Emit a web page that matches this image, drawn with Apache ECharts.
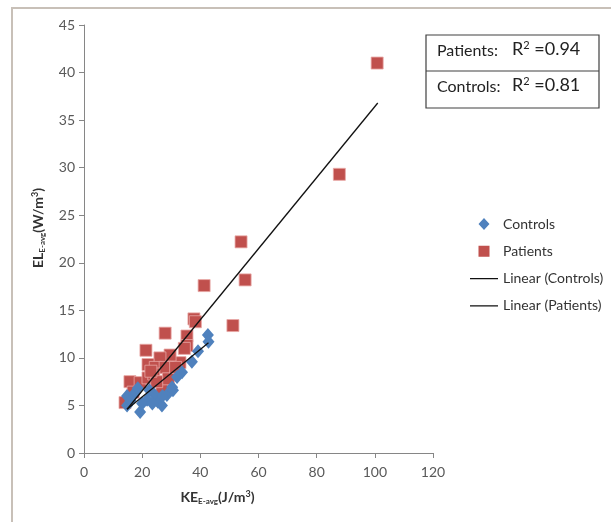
<!DOCTYPE html>
<html><head><meta charset="utf-8">
<script src="https://cdn.jsdelivr.net/npm/echarts@6/dist/echarts.min.js"></script>
<style>html,body{margin:0;padding:0;background:#fff}#c{width:611px;height:522px}</style>
</head><body><div id="c"></div>
<script>
// KE (x), EL (y)
const patients = [
  [100.8, 41.0], [87.8, 29.3], [54.0, 22.2], [55.4, 18.2], [41.3, 17.6],
  [37.8, 14.1], [38.3, 13.8], [51.2, 13.4], [35.4, 12.3], [35.4, 11.3],
  [27.9, 12.6], [21.3, 10.8], [33.0, 9.5], [29.6, 10.3], [26.1, 10.0],
  [22.0, 9.3], [24.5, 9.0], [27.9, 9.0], [15.8, 7.5], [19.3, 7.4],
  [22.0, 7.9], [26.8, 6.8], [29.0, 7.8], [16.9, 6.4], [14.1, 5.3],
  [24.0, 8.3], [31.5, 9.0], [25.0, 7.5], [23.0, 8.6], [34.5, 11.0]
];
const controls = [
  [42.6, 12.4], [42.8, 11.7], [39.2, 10.7], [37.1, 9.6], [33.7, 8.5],
  [30.3, 6.9], [25.4, 5.4], [19.3, 4.3], [14.8, 5.0], [14.8, 6.0],
  [21.7, 5.6], [17.5, 6.3], [20.0, 5.2], [26.8, 5.0], [28.5, 6.1],
  [30.6, 6.6], [24.0, 6.2], [18.5, 6.8], [16.0, 5.5], [23.5, 5.2],
  [27.0, 6.0], [22.5, 6.6], [32.0, 8.0]
];
// trendline endpoints
const linearControls = [[14.8, 4.6], [42.8, 11.6]];
const linearPatients = [[14.8, 4.6], [101.0, 36.8]];
const xTicks = {min: 0, max: 120, interval: 20};
const yTicks = {min: 0, max: 45, interval: 5};
const r2Rows = [["Patients:", "0.94"], ["Controls:", "0.81"]];

const FONT = 'Lato, "Open Sans", sans-serif';
// legend icons padded to the 28x14 legend cell so the mark keeps its own size
const BOX = 'M0,0 L0.01,0 L0,0.01 Z M28,14 L27.99,14 L28,13.99 Z ';
const ICON_DIAMOND = 'path://' + BOX + 'M14,1 L19.5,7 L14,13 L8.5,7 Z';
const ICON_SQUARE = 'path://' + BOX + 'M8.5,1.5 L19.5,1.5 L19.5,12.5 L8.5,12.5 Z';
const ICON_LINE = 'path://' + BOX + 'M0,6.3 L28,6.3 L28,7.7 L0,7.7 Z';

const chart = echarts.init(document.getElementById('c'), null, {renderer: 'canvas'});
const axisCommon = {
  axisLine: {show: true, lineStyle: {color: '#868686', width: 1}},
  axisTick: {show: true, length: 5, lineStyle: {color: '#868686'}},
  splitLine: {show: false},
  axisLabel: {color: '#595959', fontSize: 14, fontFamily: FONT}
};
const nameRich = {
  b: {fontSize: 14, fontWeight: 'bold', color: '#333', fontFamily: FONT},
  s: {fontSize: 8, fontWeight: 'bold', color: '#333', fontFamily: FONT, verticalAlign: 'bottom', padding: [7, 0, 0, 0]},
  p: {fontSize: 9, fontWeight: 'bold', color: '#333', fontFamily: FONT, verticalAlign: 'top', padding: [0, 0, 6, 0]}
};
chart.setOption({
  animation: false,
  backgroundColor: '#fff',
  textStyle: {fontFamily: FONT},
  grid: {left: 84, right: 178, top: 25, bottom: 69, containLabel: false},
  xAxis: Object.assign({
    type: 'value', min: xTicks.min, max: xTicks.max, interval: xTicks.interval,
    name: '{b|KE}{s|E-avg}{b|(J/m}{p|3}{b|)}', nameLocation: 'middle', nameGap: 37,
    nameTextStyle: {padding: [0, 82, 0, 0], rich: nameRich}
  }, axisCommon, {axisLabel: Object.assign({}, axisCommon.axisLabel, {margin: 12})}),
  yAxis: Object.assign({
    type: 'value', min: yTicks.min, max: yTicks.max, interval: yTicks.interval,
    name: '{b|EL}{s|E-avg}{b|(W/m}{p|3}{b|)}', nameLocation: 'middle', nameGap: 38, nameRotate: 90,
    nameTextStyle: {padding: [0, 0, 0, 22], rich: nameRich}
  }, axisCommon, {axisLabel: Object.assign({}, axisCommon.axisLabel, {margin: 9})}),
  legend: {
    orient: 'vertical', left: 470, top: 217, padding: 0, itemWidth: 28, itemHeight: 14, itemGap: 13.3,
    textStyle: {fontSize: 14, color: '#333', fontFamily: FONT},
    data: [
      {name: 'Controls', icon: ICON_DIAMOND, itemStyle: {color: '#4F81BD', borderWidth: 0}},
      {name: 'Patients', icon: ICON_SQUARE, itemStyle: {color: '#C0504D', borderWidth: 0}},
      {name: 'Linear (Controls)', icon: ICON_LINE, itemStyle: {color: '#111', borderWidth: 0}},
      {name: 'Linear (Patients)', icon: ICON_LINE, itemStyle: {color: '#111', borderWidth: 0}}
    ]
  },
  series: [
    {name: 'Patients', type: 'scatter', data: patients, symbol: 'rect', symbolSize: 12, z: 2,
     itemStyle: {color: '#C0504D', borderColor: '#E8A7A5', borderWidth: 0.8, opacity: 1}},
    {name: 'Controls', type: 'scatter', data: controls, symbol: 'diamond', symbolSize: [12, 14], z: 3,
     itemStyle: {color: '#4F81BD', opacity: 1}},
    {name: 'Linear (Controls)', type: 'line', data: linearControls, symbol: 'none', z: 5,
     lineStyle: {color: '#111', width: 1.3}, itemStyle: {color: '#111'}},
    {name: 'Linear (Patients)', type: 'line', data: linearPatients, symbol: 'none', z: 5,
     lineStyle: {color: '#111', width: 1.3}, itemStyle: {color: '#111'}}
  ],
  graphic: [
    {type: 'polyline', shape: {points: [[12, 522], [12, 8], [611, 8]]}, style: {stroke: '#C8C0B8', lineWidth: 2, fill: null}, silent: true},
    {type: 'rect', shape: {x: 426, y: 35, width: 173, height: 73}, style: {fill: '#fff', stroke: '#404040', lineWidth: 1.2}, z: 10},
    {type: 'line', shape: {x1: 426, y1: 71, x2: 599, y2: 71}, style: {stroke: '#404040', lineWidth: 1.2}, z: 11},
    {type: 'text', left: 437, top: 43, z: 12, style: {text: r2Rows[0][0], fontSize: 16, fill: '#222', fontFamily: FONT}},
    {type: 'text', left: 512, top: 40, z: 12, style: {text: '{a|R}{p|2}{a| =' + r2Rows[0][1] + '}', fontFamily: FONT,
      rich: {a: {fontSize: 18, fill: '#222', fontFamily: FONT}, p: {fontSize: 11, fill: '#222', fontFamily: FONT, verticalAlign: 'top', padding: [0, 0, 8, 0]}}}},
    {type: 'text', left: 437, top: 79, z: 12, style: {text: r2Rows[1][0], fontSize: 16, fill: '#222', fontFamily: FONT}},
    {type: 'text', left: 512, top: 76, z: 12, style: {text: '{a|R}{p|2}{a| =' + r2Rows[1][1] + '}', fontFamily: FONT,
      rich: {a: {fontSize: 18, fill: '#222', fontFamily: FONT}, p: {fontSize: 11, fill: '#222', fontFamily: FONT, verticalAlign: 'top', padding: [0, 0, 8, 0]}}}}
  ]
});
</script></body></html>
